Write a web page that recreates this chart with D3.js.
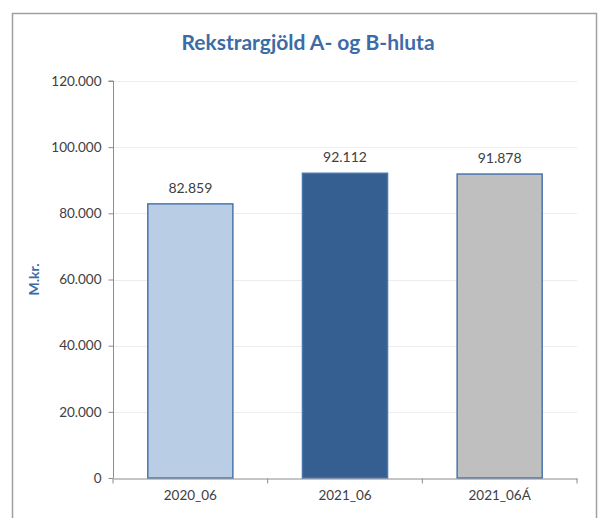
<!DOCTYPE html>
<html>
<head>
<meta charset="utf-8">
<script src="https://cdn.jsdelivr.net/npm/d3@7"></script>
<style>
  html, body { margin: 0; padding: 0; background: #fff; }
  svg { display: block; font-family: Lato, "Open Sans", sans-serif; }
</style>
</head>
<body>
<svg id="chart" width="600" height="518"></svg>
<script>
// Operating expenses, A- and B-part (millions ISK)
const categories = ["2020_06", "2021_06", "2021_06Á"];
const values = [82859, 92112, 91878];
const valueLabels = ["82.859", "92.112", "91.878"];
const barColors = ["#b9cde5", "#355f91", "#bfbfbf"];
const yTicks = [0, 20000, 40000, 60000, 80000, 100000, 120000];
const yTickLabels = ["0", "20.000", "40.000", "60.000", "80.000", "100.000", "120.000"];

const svg = d3.select("#chart");
const plot = { left: 113, right: 577, top: 81, bottom: 478 };

// Outer frame of the chart area
svg.append("rect")
  .attr("x", 12.5).attr("y", 13.5)
  .attr("width", 584).attr("height", 520)
  .attr("fill", "#fff")
  .attr("stroke", "#a0a0a0").attr("stroke-width", 1.5);

const x = d3.scaleBand()
  .domain(categories)
  .range([plot.left, plot.right])
  .paddingInner(0.45)
  .paddingOuter(0.225);

const y = d3.scaleLinear()
  .domain([0, 120000])
  .range([plot.bottom, plot.top]);

// Horizontal gridlines
svg.append("g")
  .selectAll("line")
  .data(yTicks.filter(d => d > 0))
  .join("line")
  .attr("x1", plot.left).attr("x2", plot.right)
  .attr("y1", d => Math.round(y(d)) + 0.5)
  .attr("y2", d => Math.round(y(d)) + 0.5)
  .attr("stroke", "#ededed").attr("stroke-width", 1);

// Bars
svg.append("g")
  .selectAll("rect")
  .data(values)
  .join("rect")
  .attr("x", (d, i) => x(categories[i]))
  .attr("y", d => y(d))
  .attr("width", x.bandwidth())
  .attr("height", d => y(0) - y(d))
  .attr("fill", (d, i) => barColors[i])
  .attr("stroke", "#4a76ae")
  .attr("stroke-width", 1.5);

// Value labels above bars
svg.append("g")
  .selectAll("text")
  .data(values)
  .join("text")
  .attr("x", (d, i) => x(categories[i]) + x.bandwidth() / 2)
  .attr("y", d => y(d) - 11)
  .attr("text-anchor", "middle")
  .attr("font-size", 14)
  .attr("fill", "#404040")
  .text((d, i) => valueLabels[i]);

// Y axis
const yAxis = d3.axisLeft(y)
  .tickValues(yTicks)
  .tickSize(5)
  .tickPadding(7)
  .tickFormat((d, i) => yTickLabels[i]);

const gy = svg.append("g")
  .attr("transform", `translate(${plot.left + 0.5},0)`)
  .call(yAxis);
gy.select(".domain").attr("stroke", "#8c8c8c").attr("d", `M-5,${y(120000)}H0V${y(0)}`);
gy.selectAll(".tick line").attr("stroke", "#8c8c8c");
gy.selectAll(".tick text")
  .attr("font-family", "Lato, sans-serif")
  .attr("font-size", 13.5)
  .attr("fill", "#404040");

// X axis with ticks between categories
const xAxis = d3.axisBottom(x).tickSize(0).tickPadding(12);
const gx = svg.append("g")
  .attr("transform", `translate(0,${plot.bottom + 0.5})`)
  .call(xAxis);
gx.select(".domain").attr("stroke", "#8c8c8c");
gx.selectAll(".tick text")
  .attr("font-family", "Lato, sans-serif")
  .attr("font-size", 13.5)
  .attr("fill", "#404040");

const boundaries = [0, 1, 2, 3].map(i => plot.left + i * (plot.right - plot.left) / 3);
gx.append("g")
  .selectAll("line")
  .data(boundaries)
  .join("line")
  .attr("x1", d => d).attr("x2", d => d)
  .attr("y1", 0).attr("y2", 5)
  .attr("stroke", "#8c8c8c");

// Title
svg.append("text")
  .attr("x", 308).attr("y", 50)
  .attr("text-anchor", "middle")
  .attr("font-size", 21)
  .attr("font-weight", "bold")
  .attr("fill", "#3c6ca8")
  .text("Rekstrargjöld A- og B-hluta");

// Y axis title
svg.append("text")
  .attr("transform", `translate(39,${(plot.top + plot.bottom) / 2}) rotate(-90)`)
  .attr("text-anchor", "middle")
  .attr("font-size", 14)
  .attr("font-weight", "bold")
  .attr("fill", "#3c6ca8")
  .text("M.kr.");
</script>
</body>
</html>
